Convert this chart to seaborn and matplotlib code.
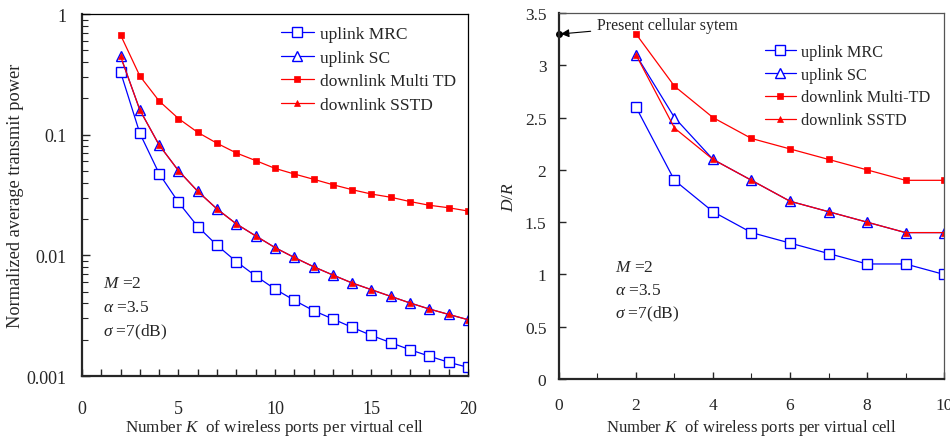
import numpy as np
import pandas as pd
import matplotlib
matplotlib.use("Agg")
import matplotlib.pyplot as plt
import seaborn as sns

# left panel: normalized transmit power vs K
k_left = list(range(2, 21))
pow_mrc = [0.33, 0.1025, 0.0475, 0.0275, 0.0173, 0.0121, 0.00887, 0.00675, 0.00526,
           0.00424, 0.00348, 0.00297, 0.00253, 0.00217, 0.00189, 0.00165, 0.00146,
           0.0013, 0.00118]
pow_sc = [0.446, 0.16, 0.082, 0.0503, 0.0339, 0.0242, 0.0182, 0.0145, 0.0116,
          0.0096, 0.00805, 0.00687, 0.0059, 0.00519, 0.00457, 0.00403, 0.00359,
          0.00324, 0.00293]
pow_multitd = [0.67, 0.306, 0.19, 0.136, 0.1045, 0.0848, 0.0705, 0.061, 0.0526,
               0.0472, 0.0427, 0.0385, 0.035, 0.0322, 0.0303, 0.0279, 0.026,
               0.0248, 0.0233]
pow_sstd = [0.446, 0.16, 0.082, 0.0503, 0.0339, 0.0242, 0.0182, 0.0145, 0.0116,
            0.0096, 0.00805, 0.00687, 0.0059, 0.00519, 0.00457, 0.00403, 0.00359,
            0.00324, 0.00293]

# right panel: D/R vs K
k_right = list(range(2, 11))
dr_mrc = [2.6, 1.9, 1.6, 1.4, 1.3, 1.2, 1.1, 1.1, 1.0]
dr_sc = [3.1, 2.5, 2.1, 1.9, 1.7, 1.6, 1.5, 1.4, 1.4]
dr_multitd = [3.3, 2.8, 2.5, 2.3, 2.2, 2.1, 2.0, 1.9, 1.9]
dr_sstd = [3.1, 2.4, 2.1, 1.9, 1.7, 1.6, 1.5, 1.4, 1.4]
present_k, present_dr = 0, 3.3

sns.set_style("ticks")
plt.rcParams['font.family'] = ['Liberation Serif', 'DejaVu Serif']
plt.rcParams['mathtext.fontset'] = 'custom'
plt.rcParams['mathtext.rm'] = 'Liberation Serif'
plt.rcParams['mathtext.it'] = 'Liberation Serif:italic'
plt.rcParams['xtick.direction'] = 'in'
plt.rcParams['ytick.direction'] = 'in'

BLUE = '#0000FF'
RED = '#FF0000'

styles = {
    'uplink MRC': dict(color=BLUE, marker='s', markersize=6.5, markerfacecolor='white',
                       markeredgecolor=BLUE, markeredgewidth=1.0),
    'uplink SC': dict(color=BLUE, marker='^', markersize=7, markerfacecolor='white',
                      markeredgecolor=BLUE, markeredgewidth=1.0),
    'downlink Multi': dict(color=RED, marker='s', markersize=4, markerfacecolor=RED,
                           markeredgecolor=RED, markeredgewidth=0.5),
    'downlink SSTD': dict(color=RED, marker='^', markersize=5, markerfacecolor=RED,
                          markeredgecolor=RED, markeredgewidth=0.5),
}

fig = plt.figure(figsize=(9.5, 4.39), dpi=100)
ax1 = fig.add_axes([0.0863, 0.1412, 0.4063, 0.8246])
ax2 = fig.add_axes([0.5884, 0.1344, 0.4053, 0.8337])

left_series = [('uplink MRC', pow_mrc, 'uplink MRC'),
               ('uplink SC', pow_sc, 'uplink SC'),
               ('downlink Multi', pow_multitd, 'downlink Multi TD'),
               ('downlink SSTD', pow_sstd, 'downlink SSTD')]
for key, vals, lab in left_series:
    df = pd.DataFrame({'K': k_left, 'P': vals})
    sns.lineplot(data=df, x='K', y='P', ax=ax1, label=lab, linewidth=0.9,
                 **styles[key])

right_series = [('uplink MRC', dr_mrc, 'uplink MRC'),
                ('uplink SC', dr_sc, 'uplink SC'),
                ('downlink Multi', dr_multitd, 'downlink Multi-TD'),
                ('downlink SSTD', dr_sstd, 'downlink SSTD')]
for key, vals, lab in right_series:
    df = pd.DataFrame({'K': k_right, 'DR': vals})
    sns.lineplot(data=df, x='K', y='DR', ax=ax2, label=lab, linewidth=0.9,
                 **styles[key])

# left axis formatting
ax1.set_yscale('log')
ax1.set_xlim(0, 20)
ax1.set_ylim(0.001, 1)
ax1.set_xticks([0, 5, 10, 15, 20])
ax1.set_xticks(range(0, 21), minor=True)
ax1.set_yticks([0.001, 0.01, 0.1, 1])
ax1.set_yticklabels(['0.001', '0.01', '0.1', '1'])
ax1.tick_params(axis='x', which='major', length=5, width=1, pad=17, labelsize=13)
ax1.tick_params(axis='x', which='minor', length=5, width=1)
ax1.tick_params(axis='y', which='major', length=6, width=1, pad=11, labelsize=13)
ax1.tick_params(axis='y', which='minor', length=4, width=0.8)
ax1.set_xlabel(r'Number $K$  of wireless ports per virtual cell', fontsize=12.3, labelpad=0.5)
ax1.set_ylabel('Normalized average transmit power', fontsize=13.2, labelpad=2)

# right axis formatting
ax2.set_xlim(0, 10)
ax2.set_ylim(0, 3.5)
ax2.set_xticks([0, 2, 4, 6, 8, 10])
ax2.set_xticks(range(0, 11), minor=True)
ax2.set_yticks(np.arange(0, 3.51, 0.5))
ax2.set_yticklabels(['0', '0.5', '1', '1.5', '2', '2.5', '3', '3.5'])
ax2.tick_params(axis='x', which='major', length=5, width=1, pad=13, labelsize=12.5)
ax2.tick_params(axis='x', which='minor', length=4, width=0.8)
ax2.tick_params(axis='y', which='major', length=5, width=1, pad=9, labelsize=12.5)
ax2.set_xlabel(r'Number $K$  of wireless ports per virtual cell', fontsize=12, labelpad=3)
ax2.set_ylabel(r'$D/R$', fontsize=12.5, labelpad=6)

ax2.plot([present_k], [present_dr], 'o', color='black', markersize=4, clip_on=False)
ax2.annotate('Present cellular sytem', xy=(present_k + 0.05, present_dr),
             xytext=(0.98, 3.39), fontsize=11.5, va='center', ha='left',
             arrowprops=dict(arrowstyle='-|>', color='black', lw=0.8,
                             mutation_scale=12, shrinkA=2, shrinkB=0))

for ax, gray in ((ax1, 'black'), (ax2, '#555555')):
    ax.spines['left'].set_linewidth(1.6)
    ax.spines['bottom'].set_linewidth(1.6)
    ax.spines['top'].set_visible(True)
    ax.spines['right'].set_visible(True)
    ax.spines['top'].set_linewidth(0.9)
    ax.spines['right'].set_linewidth(0.9)
    ax.spines['top'].set_color(gray)
    ax.spines['right'].set_color(gray)

leg1 = ax1.legend(loc='upper right', bbox_to_anchor=(1.0, 1.0), frameon=False,
                  fontsize=12.5, handlelength=1.9, handletextpad=0.35,
                  labelspacing=0.42, borderaxespad=0.3)
leg2 = ax2.legend(loc='upper right', bbox_to_anchor=(0.995, 0.947), frameon=False,
                  fontsize=11.7, handlelength=1.9, handletextpad=0.35,
                  labelspacing=0.42, borderaxespad=0.3)

params = [r'$M$ =2', r'$\alpha$ =3.5', r'$\sigma$ =7(dB)']
for i, t in enumerate(params):
    ax1.text(0.055, 0.258 - i * 0.067, t, transform=ax1.transAxes, fontsize=12.5,
             va='center', ha='left')
    ax2.text(0.145, 0.305 - i * 0.063, t, transform=ax2.transAxes, fontsize=12.5,
             va='center', ha='left')

fig.savefig('out.png', dpi=100)
